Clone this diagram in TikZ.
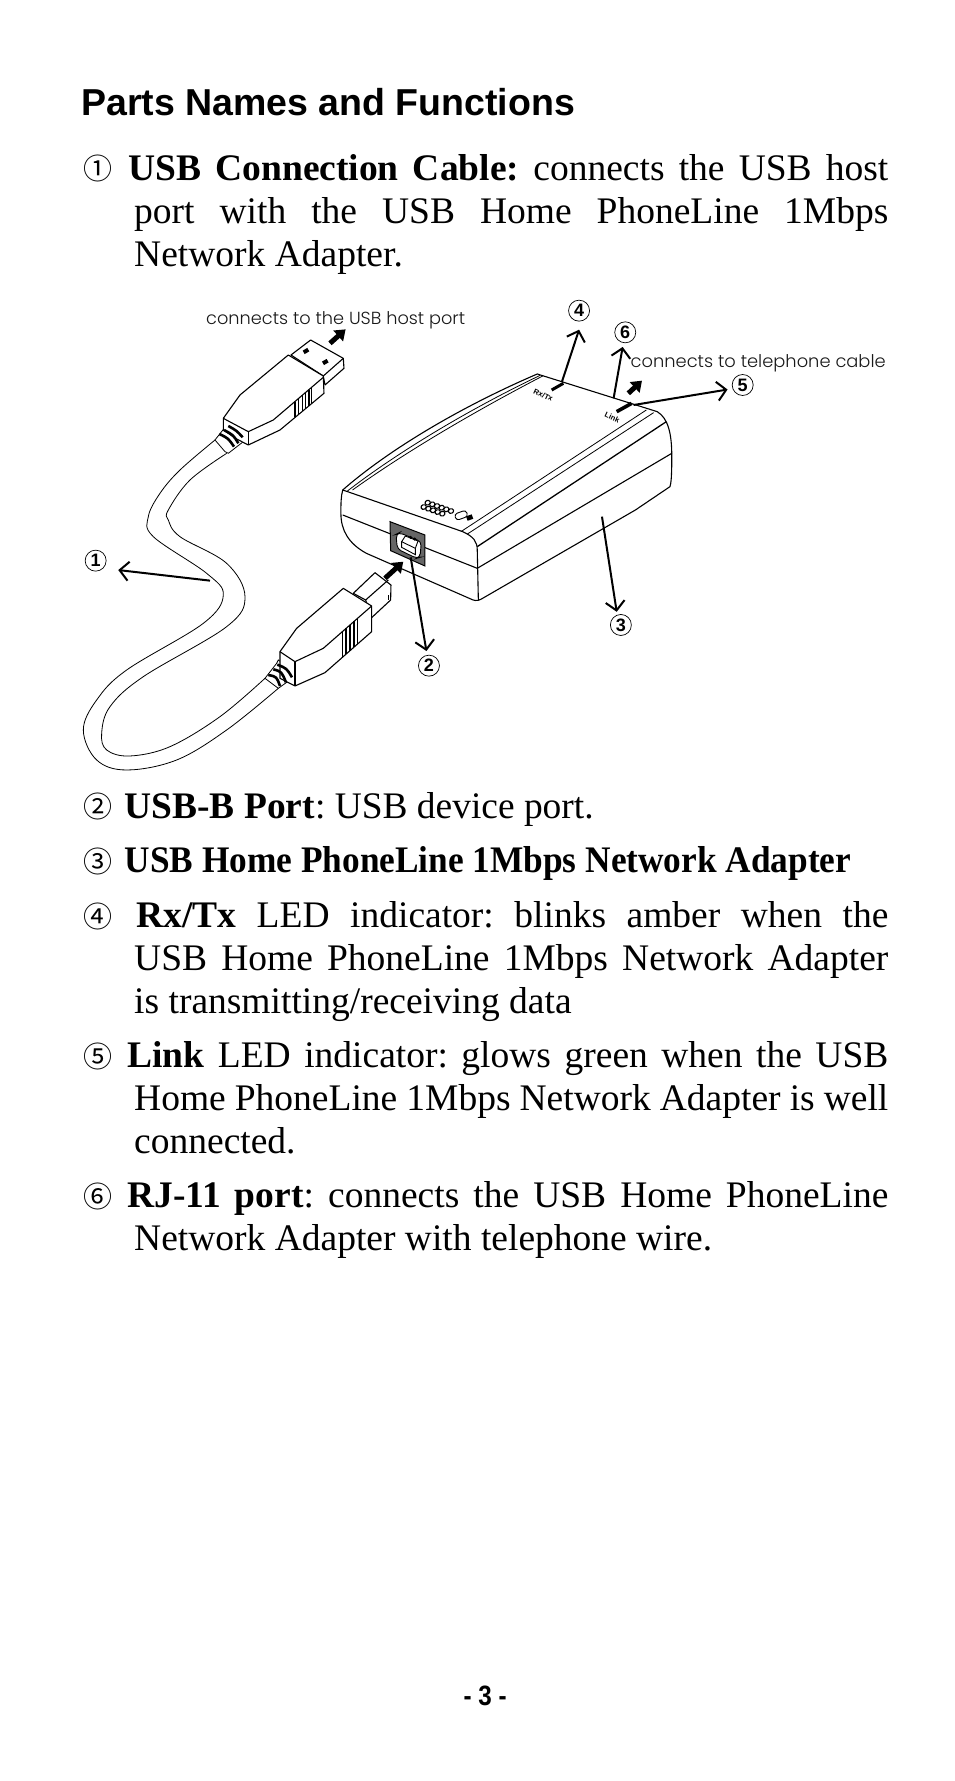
\documentclass[tikz,border=0pt]{standalone}
\usepackage{fontspec}
\usepackage{graphicx}
\usetikzlibrary{arrows.meta,shapes.geometric}
\frenchspacing
\setmainfont{Liberation Serif}
\newfontfamily\arial{Liberation Sans}
\newfontfamily\cjk{Noto Sans CJK SC}
\newfontfamily\gothic{Poppins}[UprightFont=* Light]
\newcommand{\jline}[2]{\makebox[#1pt][s]{#2}}
\tikzset{
  bodyline/.style={anchor=base west,inner sep=0pt,font=\fontsize{37.5}{43}\selectfont},
  numline/.style={anchor=base west,inner sep=0pt,font=\cjk\fontsize{29}{32}\selectfont},
  thinl/.style={line width=0.8pt,black},
  edge/.style={line width=1.1pt,black,line join=round},
  lab/.style={circle,draw,line width=0.7pt,minimum size=21pt,inner sep=0pt,font=\arial\bfseries\fontsize{18}{18}\selectfont},
  callout/.style={line width=2pt,black,-{Straight Barb[length=9pt,width=19pt,line width=2pt]}},
  bigarrow/.style={line width=5pt,black,-{Triangle[length=10pt,width=14pt]}},
  gothicfont/.style={inner sep=0pt,anchor=base west,font=\gothic\fontsize{17.5}{18}\selectfont,text=black!90},
  tiny/.style={inner sep=0pt,font=\arial\bfseries\fontsize{7.5}{8}\selectfont},
  zA/.style={shift={(60pt,-290pt)},x=0.3333pt,y=-0.3333pt},
  zB/.style={shift={(60pt,-520pt)},x=0.3333pt,y=-0.3333pt},
  zC/.style={shift={(330pt,-290pt)},x=0.3636pt,y=-0.3333pt},
  zD/.style={shift={(380pt,-480pt)},x=0.3333pt,y=-0.3333pt},
  zE/.style={shift={(520pt,-370pt)},x=0.3333pt,y=-0.3333pt},
}
\begin{document}
\begin{tikzpicture}[x=1pt,y=-1pt]
\useasboundingbox (0,0) rectangle (954,1781);
\fill[white] (0,0) rectangle (954,1781);

% ---- text ----
\node[bodyline,font=\arial\bfseries\fontsize{37.5}{43}\selectfont] (title) at (81,115) {Parts Names and Functions};
\node[numline] (c1) at (83,179.5) {①};
\node[bodyline] (l1) at (128.2,180) {\jline{760}{\textbf{USB Connection Cable:} connects the USB host}};
\node[bodyline] (l2) at (134,223.5) {\jline{754.2}{port with the USB Home PhoneLine 1Mbps}};
\node[bodyline] (l3) at (134,266.5) {Network Adapter.};
\node[numline] (c2) at (83,817.5) {②};
\node[bodyline] (l4) at (124.5,818) {\resizebox{469pt}{\height}{\textbf{USB-B Port}: USB device port.}};
\node[numline] (c3) at (83,872) {③};
\node[bodyline] (l5) at (124.5,872.5) {\resizebox{726.5pt}{\height}{\textbf{USB Home PhoneLine 1Mbps Network Adapter}}};
\node[numline] (c4) at (83,927) {④};
\node[bodyline] (l6) at (136,927.5) {\jline{752.2}{\textbf{Rx/Tx} LED indicator: blinks amber when the}};
\node[bodyline] (l7) at (134,970.5) {\jline{754.2}{USB Home PhoneLine 1Mbps Network Adapter}};
\node[bodyline] (l8) at (134,1013) {is transmitting/receiving data};
\node[numline] (c5) at (83,1067) {⑤};
\node[bodyline] (l9) at (127,1067.5) {\jline{761.2}{\textbf{Link} LED indicator: glows green when the USB}};
\node[bodyline] (l10) at (134,1110.5) {\jline{754.2}{Home PhoneLine 1Mbps Network Adapter is well}};
\node[bodyline] (l11) at (134,1153.5) {connected.};
\node[numline] (c6) at (83,1207) {⑥};
\node[bodyline] (l12) at (127,1207.5) {\jline{761.2}{\textbf{RJ-11 port}: connects the USB Home PhoneLine}};
\node[bodyline] (l13) at (134,1250) {Network Adapter with telephone wire.};
\node[inner sep=0pt,anchor=base west,font=\arial\bfseries\fontsize{28}{30}\selectfont] (page) at (463.5,1705) {\resizebox{43pt}{\height}{- 3 -}};

% ---- cable ----
\begin{scope}[zB]
\draw[thinl] plot[smooth,tension=0.6] coordinates {(655,505)(500,630)(350,720)(200,750)(110,720)(70,630)(110,540)(200,450)(430,310)(490,225)(440,160)(280,50)(265,-10)(300,-80)(360,-150)(465,-240)};
\draw[thinl] plot[smooth,tension=0.6] coordinates {(615,475)(480,590)(330,680)(210,708)(140,690)(125,640)(150,560)(250,470)(500,320)(555,230)(500,130)(360,50)(325,0)(325,-30)(390,-120)(500,-200)};
\end{scope}

% ---- USB-A plug ----
\begin{scope}[zA]
\filldraw[thinl,fill=white] (465,450) -- (495,412) -- (495,400) -- (565,440) -- (550,455) -- (505,490) -- (495,485) -- cycle;
\filldraw[edge,fill=white] (693,195) -- (752,150) -- (850,205) -- (852,235) -- (795,285) -- (790,258) -- cycle;
\draw[edge] (790,258) -- (850,205);
\fill[black,rotate around={30:(738,183)}] (730,177) rectangle (746,189);
\fill[black,rotate around={30:(796,216)}] (788,210) rectangle (804,222);
\filldraw[edge,fill=white] (490,385) -- (540,315) -- (685,195) -- (790,258) -- (792,310) -- (660,420) -- (565,465) -- (530,447) -- (490,420) -- cycle;
\draw[edge] (490,385) -- (565,425) -- (640,390) -- (790,262);
\draw[edge] (565,425) -- (565,465);
\foreach \a/\b/\c/\d/\e/\f in {478/432/505/445/522/470,492/420/520/435/535/460,505/408/530/422/548/442}
  \draw[line width=2.6pt,black] (\a,\b) .. controls (\c,\d) .. (\e,\f);
\foreach \x in {705,716,727,737,747,755}
  \draw[line width=1.2pt] (\x,{390-(\x-640)*0.853}) -- (\x,{420-(\x-660)*0.833});
\coordinate (usbA) at (810,160);
\coordinate (usbAh) at (857,118);
\draw[bigarrow] (usbA) -- (usbAh);
\node[lab] (n1) at (107,812) {1};
\coordinate (a1) at (450,872);
\draw[callout,shorten >=15pt] (a1) -- (n1.-45);
\end{scope}
\node[gothicfont] (hosttxt) at (206,324) {\resizebox{259pt}{\height}{connects to the USB host port}};

% ---- adapter ----
\begin{scope}[zC]
\filldraw[edge,fill=white] (35,600) .. controls (150,490) and (340,360) .. (570,252) -- (900,365) .. controls (930,385) and (940,430) .. (940,500) .. controls (940,560) and (938,580) .. (935,590) -- (840,660) -- (415,928) .. controls (405,934) and (395,932) .. (385,926) -- (100,790) .. controls (50,760) and (30,720) .. (30,670) .. controls (30,640) and (30,620) .. (35,600) -- cycle;
\draw[edge] (35,600) -- (365,725) .. controls (395,740) and (405,755) .. (405,780) -- (408,930);
\draw[edge,line width=1.3pt] (405,770) -- (925,395);
\draw[edge] (35,675) -- (405,835) -- (940,490);
\draw[thinl] (360,725) -- (870,360);
\draw[thinl] (378,732) -- (890,368);
\draw[thinl] (48,603) .. controls (170,500) and (360,370) .. (578,256);
\draw[thinl] (62,600) .. controls (190,500) and (370,380) .. (585,258);
\end{scope}
\begin{scope}[zD]
\filldraw[line width=1pt,fill=black!60] (30,125) -- (135,165) -- (135,258) -- (32,212) -- cycle;
\filldraw[line width=0.9pt,fill=white,rounded corners=4pt] (48,163) -- (58,158) -- (124,185) -- (120,232) -- (110,235) -- (52,207) -- cycle;
\filldraw[line width=0.9pt,fill=white] (65,185) -- (76,168) -- (114,183) -- (106,205) -- cycle;
\draw[line width=0.9pt] (65,185) -- (65,202) -- (106,224) -- (106,205);
\fill[black] (92,172) circle (5);
\fill[black] (104,177) circle (5);
% logo
\foreach \x/\y in {143/68,157/73,171/78,185/83,199/88,213/93,131/81,145/86,159/91,173/96,187/101}
  \draw[line width=1.1pt,rotate around={20:(\x,\y)}] (\x,\y) ellipse (8 and 7);
\draw[line width=0.9pt,rotate around={20:(243,106)},rounded corners=3pt] (225,96) rectangle (262,116);
\fill[black,rotate around={20:(268,113)}] (260,106) rectangle (278,120);
\coordinate (a2) at (92,232);
\end{scope}
\begin{scope}[zC]
\node[lab] (n3) at (800,1005) {3};
\coordinate (a3) at (748,680);
\draw[callout,shorten >=3pt] (a3) -- (n3.110);
\node[lab] (n4) at (685,62) {4};
\coordinate (a4) at (638,275);
\draw[callout,shorten >=9pt] (a4) -- (n4.-75);
\node[lab] (n6) at (812,127) {6};
\coordinate (a6) at (780,325);
\draw[callout,shorten >=4pt] (a6) -- (n6.-100);
\node[lab] (n5) at (1135,285) {5};
\coordinate (a5) at (835,345);
\draw[callout,shorten >=5pt] (a5) -- (n5.200);
\end{scope}
\node[gothicfont] (teltxt) at (630.5,367) {\resizebox{255pt}{\height}{connects to telephone cable}};
\begin{scope}[zE]
\coordinate (led4s) at (95,60); \coordinate (led4e) at (130,40);
\coordinate (led5s) at (290,125); \coordinate (led5e) at (335,100);
\draw[line width=3pt] (led4s) -- (led4e);
\draw[line width=3.6pt] (led5s) -- (led5e);
\coordinate (tels) at (325,70); \coordinate (tele) at (366,32);
\draw[bigarrow] (tels) -- (tele);
\node[tiny,rotate=-25] (rxlab) at (70,75) {Rx/Tx};
\node[tiny,rotate=-25] (linklab) at (277,142) {Link};
\end{scope}

% ---- USB-B plug ----
\begin{scope}[zB]
\filldraw[thinl,fill=white] (615,475) -- (650,430) -- (655,420) -- (705,455) -- (690,480) -- (655,505) -- cycle;
\filldraw[edge,fill=white] (880,220) -- (945,158) -- (993,195) -- (992,240) -- (935,293) -- (917,240) -- cycle;
\draw[edge] (917,240) -- (985,180);
\draw[thinl] (985,225) -- (985,240);
\filldraw[edge,fill=white] (660,395) -- (710,325) -- (850,205) -- (935,258) -- (935,335) -- (795,458) -- (705,498) -- (660,475) -- cycle;
\draw[edge] (660,395) -- (705,425) -- (790,385) -- (935,258);
\draw[edge] (705,425) -- (705,498);
\foreach \a/\b/\c/\d/\e/\f in {625/465/650/470/660/498,640/448/665/455/678/487,652/434/680/445/696/472}
  \draw[line width=2.6pt,black] (\a,\b) .. controls (\c,\d) .. (\e,\f);
\foreach \x in {847,858,870,882,893}
  \draw[line width=1.2pt] (\x,{385-(\x-790)*0.876}) -- (\x,{458-(\x-795)*0.879});
\coordinate (usbB) at (975,175);
\coordinate (usbBh) at (1030,125);
\draw[bigarrow] (usbB) -- (usbBh);
\node[lab] (n2) at (1107,437) {2};
\draw[callout,shorten >=4pt] (a2) -- (n2.100);
\end{scope}
\end{tikzpicture}
\end{document}
